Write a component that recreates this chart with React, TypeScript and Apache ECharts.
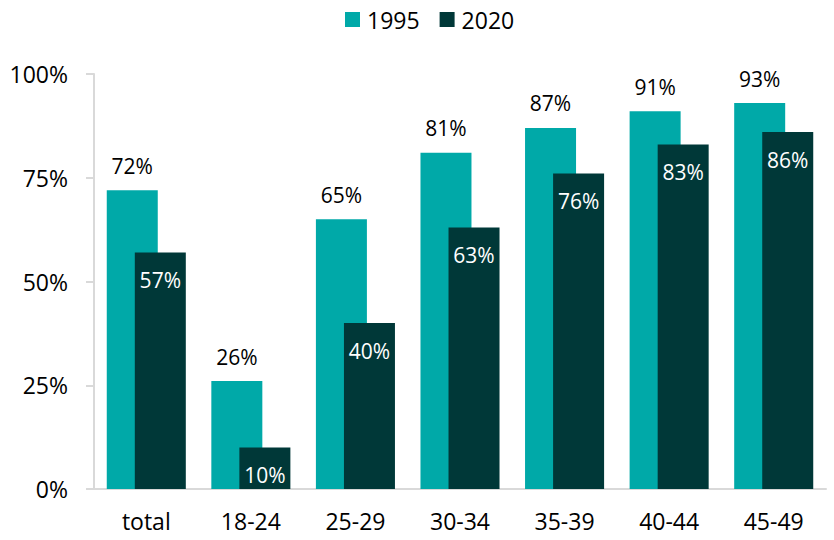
import React, { useEffect, useRef } from "react";
import * as echarts from "echarts";

const categories = ["total", "18-24", "25-29", "30-34", "35-39", "40-44", "45-49"];
const values1995 = [72, 26, 65, 81, 87, 91, 93];
const values2020 = [57, 10, 40, 63, 76, 83, 86];
const yTicks = [0, 25, 50, 75, 100];

const FONT = "Open Sans";

export default function App() {
  const ref = useRef<HTMLDivElement>(null);
  useEffect(() => {
    if (!ref.current) return;
    const chart = echarts.init(ref.current, null, { renderer: "svg" });
    chart.setOption({
      animation: false,
      textStyle: { fontFamily: FONT },
      legend: {
        top: 3,
        left: 340,
        itemWidth: 15,
        itemHeight: 15,
        itemGap: 20,
        icon: "rect",
        textStyle: { fontSize: 23, color: "#000", fontFamily: FONT, padding: [0, 0, 0, 2] },
        data: ["1995", "2020"],
      },
      grid: { left: 94, right: 8, top: 74, bottom: 51, containLabel: false },
      xAxis: {
        type: "category",
        data: categories,
        axisLine: { show: true, lineStyle: { color: "#d9d9d9", width: 2 } },
        axisTick: { show: false },
        axisLabel: { fontSize: 23, color: "#000", margin: 20, fontFamily: FONT },
      },
      yAxis: {
        type: "value",
        min: yTicks[0],
        max: yTicks[yTicks.length - 1],
        interval: 25,
        splitLine: { show: false },
        axisLine: { show: true, lineStyle: { color: "#d9d9d9", width: 2 } },
        axisTick: { show: true, length: 8, lineStyle: { color: "#d9d9d9", width: 2 } },
        axisLabel: {
          fontSize: 23,
          color: "#000",
          margin: 26,
          fontFamily: FONT,
          formatter: (v: number) => v + "%",
        },
      },
      series: [
        {
          name: "1995",
          type: "bar",
          data: values1995,
          barWidth: 51,
          barGap: "-45%",
          itemStyle: { color: "#00a9a8" },
          label: {
            show: true,
            position: "top",
            distance: 14,
            fontSize: 21,
            color: "#000",
            fontFamily: FONT,
            formatter: (p: any) => p.value + "%",
          },
        },
        {
          name: "2020",
          type: "bar",
          data: values2020,
          barWidth: 51,
          itemStyle: { color: "#003838" },
          label: {
            show: true,
            position: "insideTop",
            distance: 17,
            fontSize: 21,
            color: "#fff",
            fontFamily: FONT,
            formatter: (p: any) => p.value + "%",
          },
        },
      ],
    });
    return () => chart.dispose();
  }, []);
  return <div ref={ref} style={{ width: 834, height: 540, position: "absolute", left: 0, top: 0 }} />;
}
